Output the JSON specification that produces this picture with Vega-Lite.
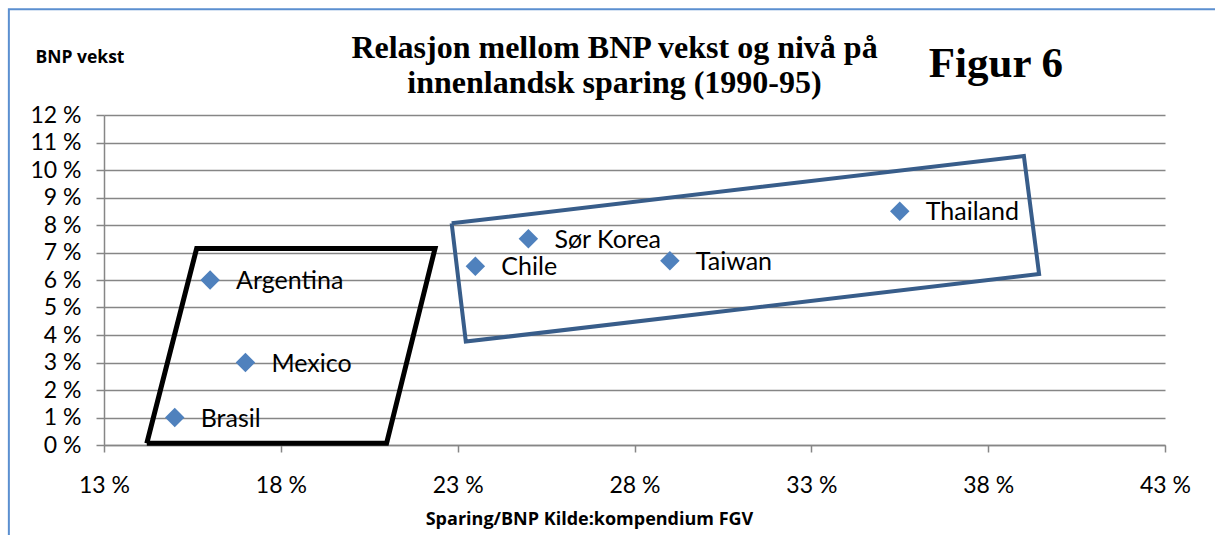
{
  "$schema": "https://vega.github.io/schema/vega-lite/v6.json",
  "width": 1061,
  "height": 330,
  "autosize": {"type": "none"},
  "padding": {"left": 104, "top": 115, "right": 50, "bottom": 90},
  "background": "white",
  "config": {
    "view": {"stroke": null},
    "font": "Lato"
  },
  "title": {
    "text": ["Relasjon mellom BNP vekst og nivå på", "innenlandsk sparing (1990-95)"],
    "font": "Liberation Serif",
    "fontWeight": "bold",
    "fontSize": 32,
    "lineHeight": 35.5,
    "color": "black",
    "anchor": "middle",
    "frame": "group",
    "dx": -20,
    "offset": -92
  },
  "datasets": {
    "points": [
      {"land": "Brasil", "sparing": 15.0, "vekst": 1.0},
      {"land": "Mexico", "sparing": 17.0, "vekst": 3.0},
      {"land": "Argentina", "sparing": 16.0, "vekst": 6.0},
      {"land": "Chile", "sparing": 23.5, "vekst": 6.5},
      {"land": "Sør Korea", "sparing": 25.0, "vekst": 7.5},
      {"land": "Taiwan", "sparing": 29.0, "vekst": 6.7},
      {"land": "Thailand", "sparing": 35.5, "vekst": 8.5}
    ],
    "shapes": [
      {"gruppe": "A", "rekkefolge": 1, "sparing": 14.21, "vekst": 0.06},
      {"gruppe": "A", "rekkefolge": 2, "sparing": 15.62, "vekst": 7.15},
      {"gruppe": "A", "rekkefolge": 3, "sparing": 22.36, "vekst": 7.15},
      {"gruppe": "A", "rekkefolge": 4, "sparing": 20.99, "vekst": 0.06},
      {"gruppe": "A", "rekkefolge": 5, "sparing": 14.21, "vekst": 0.06},
      {"gruppe": "B", "rekkefolge": 1, "sparing": 22.83, "vekst": 8.06},
      {"gruppe": "B", "rekkefolge": 2, "sparing": 39.01, "vekst": 10.51},
      {"gruppe": "B", "rekkefolge": 3, "sparing": 39.44, "vekst": 6.22},
      {"gruppe": "B", "rekkefolge": 4, "sparing": 23.23, "vekst": 3.76},
      {"gruppe": "B", "rekkefolge": 5, "sparing": 22.83, "vekst": 8.06}
    ],
    "notes": [
      {"tekst": "Figur 6", "sparing": 38.22, "vekst": 13.4}
    ],
    "ramme": [
      {"x1": 10.31, "x2": 46, "y1": 15.85, "y2": -4}
    ]
  },
  "layer": [
    {
      "data": {"name": "ramme"},
      "mark": {"type": "rect", "fill": null, "stroke": "#5B8FD0", "strokeWidth": 2, "clip": false},
      "encoding": {
        "x": {"field": "x1", "type": "quantitative"},
        "x2": {"field": "x2"},
        "y": {"field": "y1", "type": "quantitative"},
        "y2": {"field": "y2"}
      }
    },
    {
      "data": {"name": "points"},
      "mark": {"type": "point", "shape": "diamond", "filled": true, "size": 380, "color": "#4F81BD", "opacity": 1},
      "encoding": {
        "x": {
          "field": "sparing", "type": "quantitative",
          "scale": {"domain": [13, 43], "nice": false, "zero": false},
          "axis": {
            "values": [13, 18, 23, 28, 33, 38, 43],
            "tickCount": 7,
            "labelExpr": "datum.value + ' %'",
            "labelFont": "Lato", "labelFontSize": 23, "labelColor": "black",
            "labelPadding": 22, "labelOverlap": false, "labelFlush": false,
            "grid": false,
            "domainColor": "#868686", "domainWidth": 1.5,
            "tickColor": "#868686", "tickWidth": 1.5, "tickSize": 7,
            "title": "Sparing/BNP Kilde:kompendium FGV",
            "titleFont": "Open Sans", "titleFontSize": 18, "titleFontWeight": "bold", "titleColor": "black",
            "titleX": 485, "titleY": 79, "titleBaseline": "alphabetic", "titleAlign": "center"
          }
        },
        "y": {
          "field": "vekst", "type": "quantitative",
          "scale": {"domain": [0, 12], "nice": false},
          "axis": {
            "values": [0, 1, 2, 3, 4, 5, 6, 7, 8, 9, 10, 11, 12],
            "tickCount": 13,
            "labelExpr": "datum.value + ' %'",
            "labelFont": "Lato", "labelFontSize": 23, "labelColor": "black",
            "labelPadding": 15, "labelOverlap": false, "labelFlush": false,
            "grid": true, "gridColor": "#868686", "gridWidth": 1.5,
            "domainColor": "#868686", "domainWidth": 1.5,
            "tickColor": "#868686", "tickWidth": 1.5, "tickSize": 8,
            "title": "BNP vekst",
            "titleFont": "Open Sans", "titleFontSize": 17.5, "titleFontWeight": "bold", "titleColor": "black",
            "titleAngle": 0, "titleAlign": "left", "titleBaseline": "alphabetic",
            "titleX": -69, "titleY": -53
          }
        }
      }
    },
    {
      "data": {"name": "points"},
      "mark": {"type": "text", "align": "left", "baseline": "middle", "dx": 26, "dy": 1, "font": "Lato", "fontSize": 25, "color": "black"},
      "encoding": {
        "x": {"field": "sparing", "type": "quantitative"},
        "y": {"field": "vekst", "type": "quantitative"},
        "text": {"field": "land"}
      }
    },
    {
      "data": {"name": "shapes"},
      "mark": {"type": "line", "strokeJoin": "miter", "clip": false},
      "encoding": {
        "x": {"field": "sparing", "type": "quantitative"},
        "y": {"field": "vekst", "type": "quantitative"},
        "order": {"field": "rekkefolge", "type": "quantitative"},
        "color": {"field": "gruppe", "type": "nominal", "scale": {"domain": ["A", "B"], "range": ["#000000", "#385D8A"]}, "legend": null},
        "strokeWidth": {"field": "gruppe", "type": "nominal", "scale": {"domain": ["A", "B"], "range": [5, 4]}, "legend": null}
      }
    },
    {
      "data": {"name": "notes"},
      "mark": {"type": "text", "align": "center", "baseline": "alphabetic", "font": "Liberation Serif", "fontWeight": "bold", "fontSize": 43, "color": "black", "clip": false},
      "encoding": {
        "x": {"field": "sparing", "type": "quantitative"},
        "y": {"field": "vekst", "type": "quantitative"},
        "text": {"field": "tekst"}
      }
    }
  ]
}
